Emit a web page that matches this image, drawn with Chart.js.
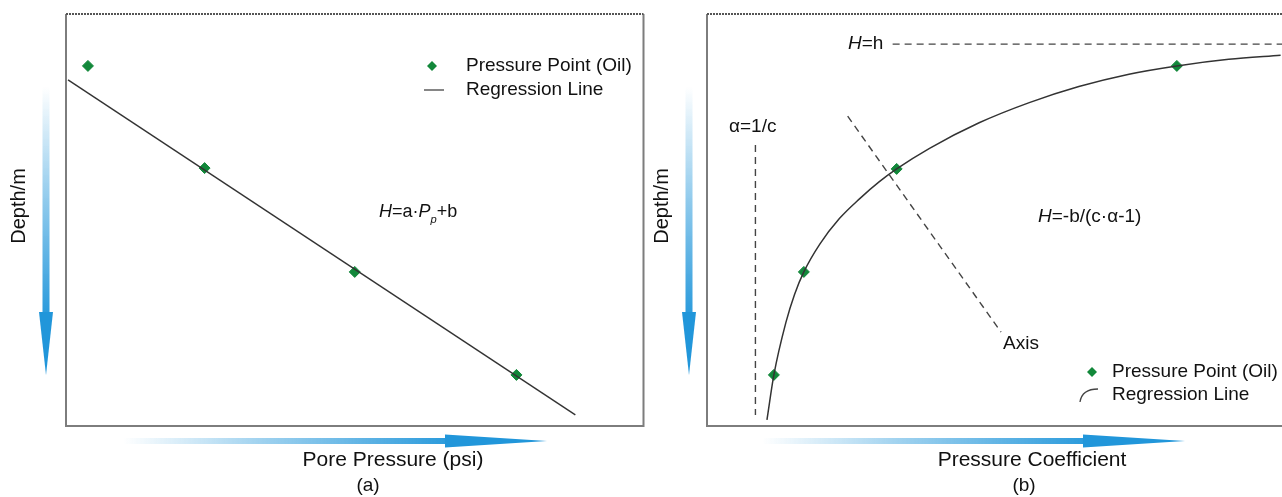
<!DOCTYPE html>
<html lang="en">
  <head>
    <meta charset="UTF-8" />
    <title>Depth vs Pore Pressure / Pressure Coefficient</title>
    <script src="https://cdn.jsdelivr.net/npm/chart.js"></script>
    <style>
      body {
        margin: 0;
        background: #fff;
        width: 1282px;
        height: 497px;
        overflow: hidden;
        position: relative;
      }
      canvas {
        position: absolute;
        top: 0;
      }
      #chartA { left: 0; }
      #chartB { left: 650px; }
    </style>
  </head>
  <body>
    <canvas id="chartA" width="650" height="497"></canvas>
    <canvas id="chartB" width="640" height="497"></canvas>

    <script>
      // (a) depth vs pore pressure, linear regression (relative units, depth grows downward)
      const pressureA = [3.8, 24.0, 50.0, 78.0];
      const depthA = [12.6, 37.4, 62.6, 87.6];
      const lineXA = [0.35, 88.2];
      const lineYA = [16.0, 97.3];

      // (b) depth vs pressure coefficient, hyperbolic regression
      const coefB = [11.6, 16.8, 32.9, 81.5];
      const depthB = [87.6, 62.6, 37.6, 12.6];
      const curveXB = [10.4, 11.6, 13.7, 15.2, 16.8, 19.6, 23.0, 26.5, 29.9, 32.9, 38.6, 47.2, 55.9, 64.5, 73.2, 81.5, 90.5, 99.5];
      const curveYB = [98.5, 87.6, 74.8, 68.0, 62.6, 55.8, 49.6, 44.8, 40.7, 37.6, 32.6, 26.4, 21.5, 17.6, 14.6, 12.6, 11.0, 10.0];
      const asymXB = [8.4, 8.4];
      const asymYB = [31.8, 97.3];
      const limitXB = [32.2, 100];
      const limitYB = [7.3, 7.3];
      const axisXB = [24.4, 51.0];
      const axisYB = [24.8, 77.2];

      const FONT = '"Liberation Sans", Arial, sans-serif';
      const GREEN = "#12883a";
      const BLUE = [33, 150, 218];

      function zip(xs, ys) {
        return xs.map((x, i) => ({ x: x, y: ys[i] }));
      }

      function drawRich(ctx, parts, x, y, size) {
        ctx.textBaseline = "middle";
        ctx.textAlign = "left";
        parts.forEach((p) => {
          const s = p.sub ? size * 0.62 : size;
          ctx.font = (p.i ? "italic " : "") + s + "px " + FONT;
          ctx.fillText(p.t, x, y + (p.sub ? size * 0.45 : 0));
          x += ctx.measureText(p.t).width;
        });
      }

      // gradient arrow from (x0,y0) to tip (x1,y1)
      function drawArrow(ctx, x0, y0, x1, y1, headLen, headW, shaftW) {
        const len = Math.hypot(x1 - x0, y1 - y0);
        ctx.save();
        ctx.translate(x0, y0);
        ctx.rotate(Math.atan2(y1 - y0, x1 - x0));
        const g = ctx.createLinearGradient(0, 0, len - headLen, 0);
        g.addColorStop(0, `rgba(${BLUE},0)`);
        g.addColorStop(0.45, `rgba(${BLUE},0.45)`);
        g.addColorStop(1, `rgba(${BLUE},0.95)`);
        ctx.fillStyle = g;
        ctx.fillRect(0, -shaftW / 2, len - headLen + 1, shaftW);
        ctx.fillStyle = `rgb(${BLUE})`;
        ctx.beginPath();
        ctx.moveTo(len - headLen, -headW / 2);
        ctx.lineTo(len, 0);
        ctx.lineTo(len - headLen, headW / 2);
        ctx.closePath();
        ctx.fill();
        ctx.restore();
      }

      function diamond(ctx, x, y, r) {
        ctx.fillStyle = GREEN;
        ctx.beginPath();
        ctx.moveTo(x, y - r);
        ctx.lineTo(x + r, y);
        ctx.lineTo(x, y + r);
        ctx.lineTo(x - r, y);
        ctx.closePath();
        ctx.fill();
      }

      const decor = {
        id: "decor",
        beforeDatasetsDraw(chart) {
          const { ctx, chartArea: a } = chart;
          ctx.save();
          ctx.strokeStyle = "#7d7d7d";
          ctx.lineWidth = 2;
          ctx.beginPath();
          ctx.moveTo(a.left, a.top);
          ctx.lineTo(a.left, a.bottom);
          ctx.lineTo(a.right, a.bottom);
          ctx.lineTo(a.right, a.top);
          ctx.stroke();
          ctx.setLineDash([2, 1]);
          ctx.strokeStyle = "#555";
          ctx.lineWidth = 2;
          ctx.beginPath();
          ctx.moveTo(a.left, a.top);
          ctx.lineTo(a.right, a.top);
          ctx.stroke();
          ctx.restore();
        },
        afterDraw(chart, args, o) {
          const ctx = chart.ctx;
          const dx = -o.offset;
          ctx.save();

          // axis arrows
          drawArrow(ctx, o.vArrowX + dx, 87, o.vArrowX + dx, 375, 63, 14, 7);
          drawArrow(ctx, o.hArrow[0] + dx, 441, o.hArrow[1] + dx, 441, 102, 13, 6);

          // axis titles
          ctx.fillStyle = "#111";
          ctx.save();
          ctx.translate(o.yTitleX + dx, 206);
          ctx.rotate(-Math.PI / 2);
          ctx.font = "20px " + FONT;
          ctx.textAlign = "center";
          ctx.textBaseline = "middle";
          ctx.fillText("Depth/m", 0, 0);
          ctx.restore();

          ctx.font = "21px " + FONT;
          ctx.textAlign = "center";
          ctx.textBaseline = "middle";
          ctx.fillText(o.xTitle, o.xTitleX + dx, 460);
          ctx.font = "19px " + FONT;
          ctx.fillText(o.tag, o.tagX + dx, 486);

          // annotations
          o.notes.forEach((n) => drawRich(ctx, n.parts, n.x + dx, n.y, n.size || 19));

          // legend
          const L = o.legend;
          diamond(ctx, L.markX + dx, L.y1, 5);
          ctx.strokeStyle = "#444";
          ctx.lineWidth = 1.3;
          ctx.beginPath();
          if (L.curved) {
            ctx.moveTo(L.markX - 12 + dx, L.y2 + 7);
            ctx.quadraticCurveTo(L.markX - 10 + dx, L.y2 - 6, L.markX + 6 + dx, L.y2 - 6);
          } else {
            ctx.moveTo(L.markX - 8 + dx, L.y2);
            ctx.lineTo(L.markX + 12 + dx, L.y2);
          }
          ctx.stroke();
          ctx.fillStyle = "#111";
          ctx.font = "19px " + FONT;
          ctx.textAlign = "left";
          ctx.textBaseline = "middle";
          ctx.fillText("Pressure Point (Oil)", L.textX + dx, L.y1);
          ctx.fillText("Regression Line", L.textX + dx, L.y2);
          ctx.restore();
        },
      };

      function baseOptions(padding, decorOpts) {
        return {
          responsive: false,
          animation: false,
          layout: { padding: padding },
          scales: {
            x: { type: "linear", min: 0, max: 100, display: false },
            y: { type: "linear", min: 0, max: 100, reverse: true, display: false },
          },
          plugins: {
            legend: { display: false },
            tooltip: { enabled: false },
            decor: decorOpts,
          },
        };
      }

      const pointStyle = {
        pointStyle: "rectRot",
        pointRadius: 5.5,
        backgroundColor: GREEN,
        borderColor: GREEN,
        showLine: false,
      };

      new Chart(document.getElementById("chartA"), {
        type: "scatter",
        data: {
          datasets: [
            {
              label: "Regression Line",
              data: zip(lineXA, lineYA),
              showLine: true,
              borderColor: "#333",
              borderWidth: 1.4,
              pointRadius: 0,
            },
            Object.assign({ label: "Pressure Point (Oil)", data: zip(pressureA, depthA) }, pointStyle),
          ],
        },
        options: baseOptions(
          { left: 66, top: 14, right: 6, bottom: 71 },
          {
            offset: 0,
            vArrowX: 46,
            hArrow: [123, 547],
            yTitleX: 19,
            xTitle: "Pore Pressure (psi)",
            xTitleX: 393,
            tag: "(a)",
            tagX: 368,
            notes: [
              {
                x: 379,
                y: 212,
                size: 18,
                parts: [
                  { t: "H", i: true },
                  { t: "=a·" },
                  { t: "P", i: true },
                  { t: "p", i: true, sub: true },
                  { t: "+b" },
                ],
              },
            ],
            legend: { markX: 432, textX: 466, y1: 66, y2: 90, curved: false },
          }
        ),
        plugins: [decor],
      });

      const dashed = {
        showLine: true,
        borderColor: "#444",
        borderWidth: 1.4,
        borderDash: [7, 5],
        pointRadius: 0,
      };

      new Chart(document.getElementById("chartB"), {
        type: "scatter",
        data: {
          datasets: [
            Object.assign({ label: "α=1/c", data: zip(asymXB, asymYB) }, dashed),
            Object.assign({ label: "H=h", data: zip(limitXB, limitYB) }, dashed),
            Object.assign({ label: "Axis", data: zip(axisXB, axisYB) }, dashed),
            {
              label: "Regression Line",
              data: zip(curveXB, curveYB),
              showLine: true,
              cubicInterpolationMode: "monotone",
              borderColor: "#333",
              borderWidth: 1.5,
              pointRadius: 0,
            },
            Object.assign({ label: "Pressure Point (Oil)", data: zip(coefB, depthB) }, pointStyle),
          ],
        },
        options: baseOptions(
          { left: 57, top: 14, right: 5, bottom: 71 },
          {
            offset: 650,
            vArrowX: 689,
            hArrow: [762, 1185],
            yTitleX: 662,
            xTitle: "Pressure Coefficient",
            xTitleX: 1032,
            tag: "(b)",
            tagX: 1024,
            notes: [
              { x: 848, y: 44, parts: [{ t: "H", i: true }, { t: "=h" }] },
              { x: 729, y: 127, parts: [{ t: "α=1/c" }] },
              { x: 1003, y: 344, parts: [{ t: "Axis" }] },
              {
                x: 1038,
                y: 217,
                parts: [{ t: "H", i: true }, { t: "=-b/(c·α-1)" }],
              },
            ],
            legend: { markX: 1092, textX: 1112, y1: 372, y2: 395, curved: true },
          }
        ),
        plugins: [decor],
      });
    </script>
  </body>
</html>
